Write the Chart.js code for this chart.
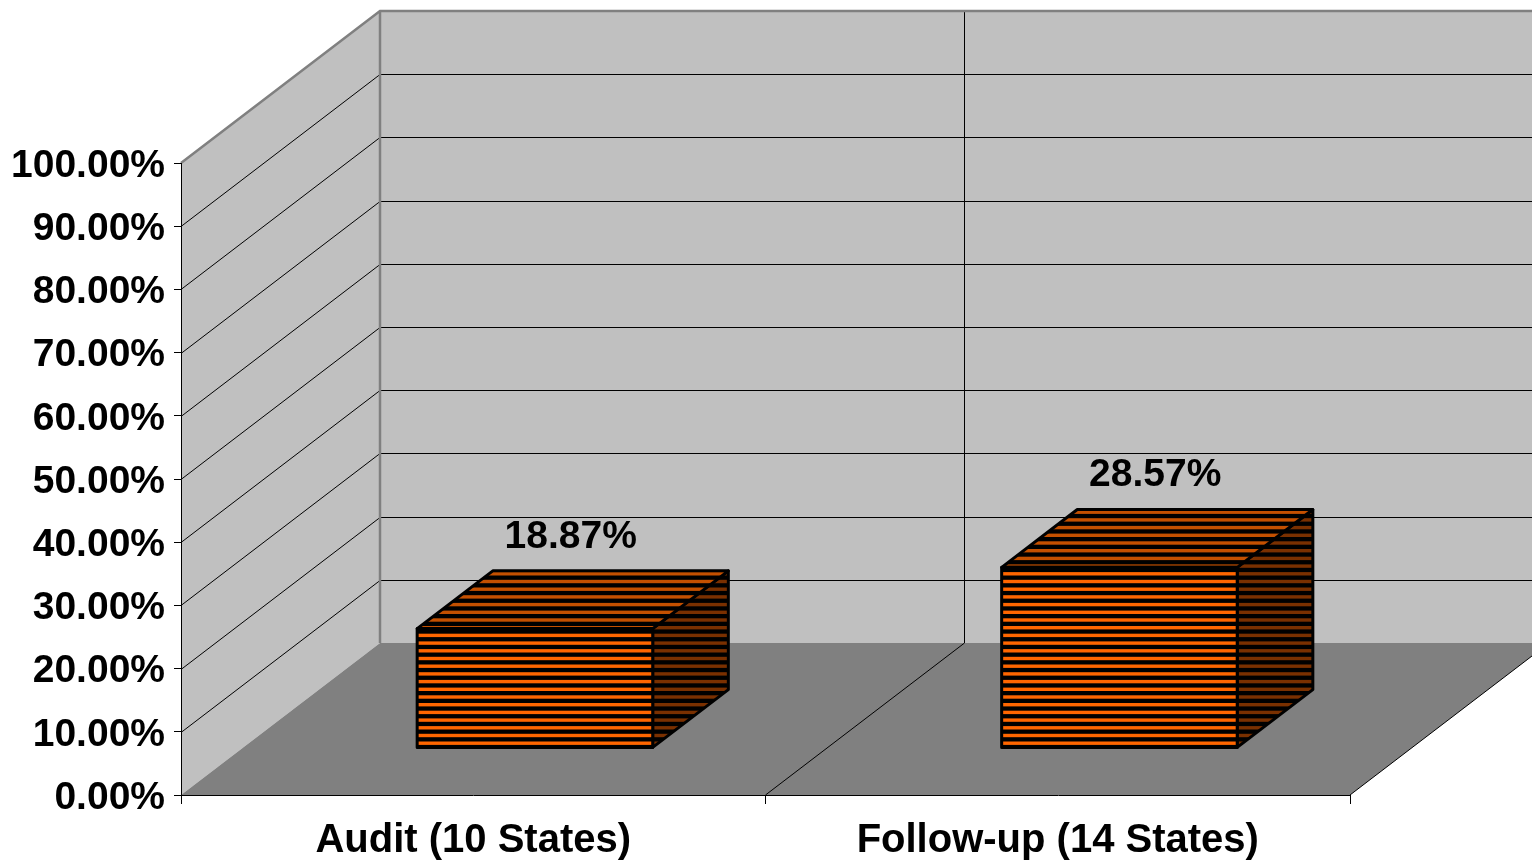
<!DOCTYPE html>
<html>
<head>
<meta charset="utf-8">
<script src="https://cdn.jsdelivr.net/npm/chart.js@4.4.1/dist/chart.umd.min.js"></script>
<style>
  html, body { margin: 0; padding: 0; background: #fff; }
  #chart { display: block; }
</style>
</head>
<body>
<canvas id="chart" width="1532" height="860"></canvas>
<script>
// Données
const categories = ['Audit (10 States)', 'Follow-up (14 States)'];
const values = [18.87, 28.57];
const yMin = 0;
const yMax = 100;
const yStep = 10;

// Géométrie de la perspective (effet 3D façon Excel)
const DX = 199, DY = -152;
const F1 = 0.31, F2 = 0.69;
const FONT = '"Liberation Sans", Arial, sans-serif';

function poly(ctx, pts) {
    ctx.beginPath();
    ctx.moveTo(pts[0][0], pts[0][1]);
    for (let i = 1; i < pts.length; i++) ctx.lineTo(pts[i][0], pts[i][1]);
    ctx.closePath();
}

// Face hachurée (bandes horizontales)
function stripedFace(ctx, pts, color) {
    ctx.save();
    poly(ctx, pts);
    ctx.fillStyle = '#000';
    ctx.fill();
    ctx.clip();
    const ys = pts.map(p => p[1]);
    const xs = pts.map(p => p[0]);
    const top = Math.min(...ys), bottom = Math.max(...ys);
    const left = Math.min(...xs), right = Math.max(...xs);
    ctx.fillStyle = color;
    const period = 7.7;
    const start = Math.floor(top / period) * period;
    for (let yy = start; yy < bottom; yy += period) {
        ctx.fillRect(left, yy + 2.3, right - left, 3.4);
    }
    ctx.restore();
    poly(ctx, pts);
    ctx.lineWidth = 3;
    ctx.lineJoin = 'round';
    ctx.strokeStyle = '#000';
    ctx.stroke();
}

// Murs, sol et quadrillage
const wallsPlugin = {
    id: 'walls3d',
    beforeDraw(chart) {
        const { ctx, chartArea: a, scales } = chart;
        const y = scales.y, x = scales.x;
        const W = chart.width;
        ctx.save();

        // mur du fond
        ctx.fillStyle = '#c0c0c0';
        ctx.fillRect(a.left + DX, a.top + DY, W, a.bottom - a.top);
        // mur de gauche
        poly(ctx, [[a.left, a.bottom], [a.left, a.top], [a.left + DX, a.top + DY], [a.left + DX, a.bottom + DY]]);
        ctx.fill();
        // sol
        poly(ctx, [[a.left, a.bottom], [a.right, a.bottom], [a.right + DX, a.bottom + DY], [a.left + DX, a.bottom + DY]]);
        ctx.fillStyle = '#808080';
        ctx.fill();

        // lignes du quadrillage
        ctx.lineWidth = 1;
        ctx.strokeStyle = '#000';
        y.ticks.forEach(t => {
            if (t.value === yMin || t.value === yMax) return;
            const py = Math.round(y.getPixelForValue(t.value)) + 0.5;
            ctx.beginPath();
            ctx.moveTo(a.left, py);
            ctx.lineTo(a.left + DX, py + DY);
            ctx.lineTo(W, py + DY);
            ctx.stroke();
        });

        // séparation des catégories
        const mid = (x.getPixelForValue(0) + x.getPixelForValue(1)) / 2;
        ctx.beginPath();
        ctx.moveTo(mid, a.bottom);
        ctx.lineTo(mid + DX, a.bottom + DY);
        ctx.lineTo(mid + DX, a.top + DY);
        ctx.stroke();

        // bord droit du sol
        ctx.beginPath();
        ctx.moveTo(a.right, a.bottom);
        ctx.lineTo(a.right + DX, a.bottom + DY);
        ctx.stroke();

        // contours gris des murs
        ctx.strokeStyle = '#808080';
        ctx.lineWidth = 2.5;
        const pTop = y.getPixelForValue(yMax);
        ctx.beginPath();
        ctx.moveTo(a.left, pTop);
        ctx.lineTo(a.left + DX, pTop + DY);
        ctx.lineTo(W, pTop + DY);
        ctx.stroke();
        ctx.beginPath();
        ctx.moveTo(a.left + DX, pTop + DY);
        ctx.lineTo(a.left + DX, a.bottom + DY);
        ctx.stroke();
        ctx.restore();
    }
};

// Barres en 3D + étiquettes de valeurs
const bars3dPlugin = {
    id: 'bars3d',
    afterDatasetsDraw(chart) {
        const ctx = chart.ctx;
        const meta = chart.getDatasetMeta(0);
        const ox = F1 * DX, oy = F1 * DY;
        const ddx = (F2 - F1) * DX, ddy = (F2 - F1) * DY;
        meta.data.forEach((bar, i) => {
            const { x, y, base, width } = bar.getProps(['x', 'y', 'base', 'width'], true);
            const L = x - width / 2 + ox, R = x + width / 2 + ox;
            const T = y + oy, B = base + oy;
            stripedFace(ctx, [[R, T], [R + ddx, T + ddy], [R + ddx, B + ddy], [R, B]], '#7a3000');
            stripedFace(ctx, [[L, T], [L + ddx, T + ddy], [R + ddx, T + ddy], [R, T]], '#c45000');
            stripedFace(ctx, [[L, T], [R, T], [R, B], [L, B]], '#ff6600');

            ctx.save();
            ctx.font = 'bold 39px ' + FONT;
            ctx.fillStyle = '#000';
            ctx.textAlign = 'center';
            ctx.textBaseline = 'middle';
            ctx.fillText(values[i].toFixed(2) + '%', (L + R + ddx) / 2 - 2, T + ddy - 34);
            ctx.restore();
        });
    }
};

new Chart(document.getElementById('chart'), {
    type: 'bar',
    data: {
        labels: categories,
        datasets: [{
            data: values,
            backgroundColor: 'rgba(0,0,0,0)',
            borderWidth: 0,
            barPercentage: 0.403,
            categoryPercentage: 1
        }]
    },
    options: {
        responsive: false,
        animation: false,
        layout: { padding: { top: 163, right: 182, left: 0, bottom: 0 } },
        plugins: {
            legend: { display: false },
            tooltip: { enabled: false }
        },
        scales: {
            y: {
                min: yMin,
                max: yMax,
                ticks: {
                    stepSize: yStep,
                    color: '#000',
                    padding: 9,
                    labelOffset: 3,
                    font: { family: FONT, size: 39, weight: 'bold' },
                    callback: v => v.toFixed(2) + '%'
                },
                grid: { drawOnChartArea: false, drawTicks: true, tickLength: 7, color: '#000' },
                border: { display: true, color: '#000', width: 1 },
                afterFit(s) { s.width = 181; }
            },
            x: {
                ticks: {
                    color: '#000',
                    padding: 13,
                    font: { family: FONT, size: 40, weight: 'bold' }
                },
                grid: { offset: true, drawOnChartArea: false, drawTicks: true, tickLength: 9, color: '#000' },
                border: { display: true, color: '#000', width: 1 },
                afterFit(s) { s.height = 65; }
            }
        }
    },
    plugins: [wallsPlugin, bars3dPlugin]
});
</script>
</body>
</html>
